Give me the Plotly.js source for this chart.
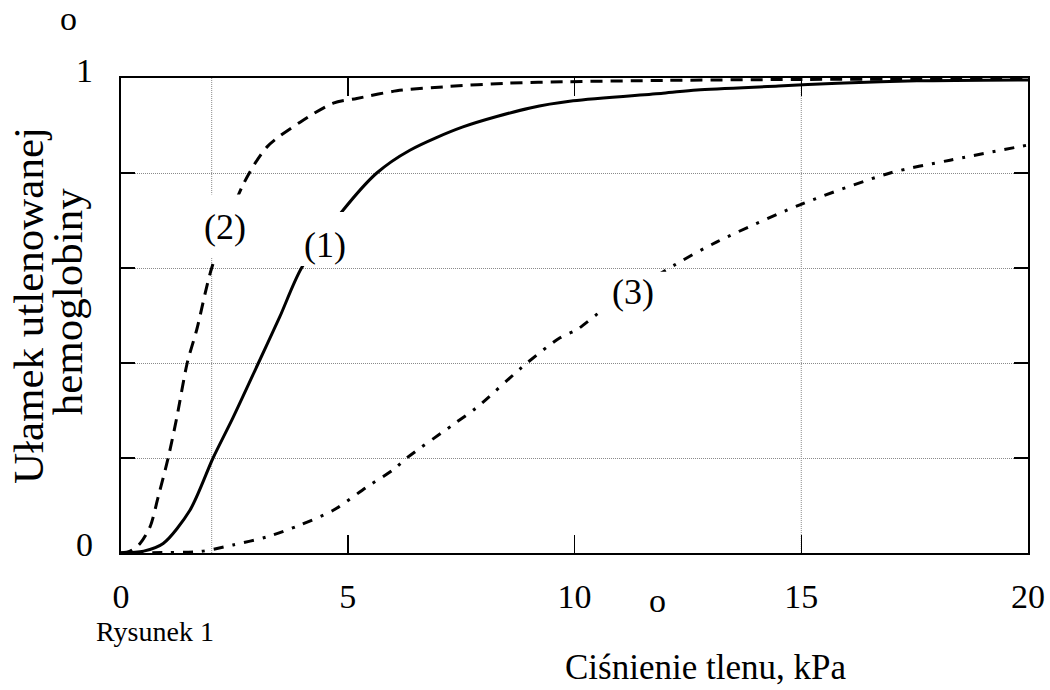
<!DOCTYPE html>
<html>
<head>
<meta charset="utf-8">
<script src="https://cdn.plot.ly/plotly-3.0.1.min.js"></script>
<style>html,body{margin:0;padding:0;background:#fff;}#chart{width:1050px;height:690px;}</style>
</head>
<body>
<div id="chart"></div>
<script>
// Curve (1) – solid
var pressure1 = [0, 0.5, 0.93, 1.52, 2.03, 2.47, 3.03, 3.5, 3.98, 4.9, 5.64, 6.37, 7.54, 9.02, 9.97, 11.95, 12.7, 14.5, 15.8, 17.55, 20];
var fraction1 = [0, 0.004, 0.02, 0.09, 0.2, 0.285, 0.4, 0.497, 0.6, 0.722, 0.8, 0.848, 0.897, 0.937, 0.952, 0.968, 0.975, 0.983, 0.989, 0.994, 0.996];
// Curve (2) – dashed
var pressure2 = [0, 0.2, 0.42, 0.64, 0.82, 1.04, 1.23, 1.46, 1.67, 2.0, 2.69, 3.22, 3.95, 4.68, 5.2, 6.08, 7.2, 8.5, 9.75, 12, 15, 20];
var fraction2 = [0, 0.004, 0.02, 0.055, 0.118, 0.2, 0.285, 0.4, 0.47, 0.6, 0.775, 0.855, 0.907, 0.947, 0.957, 0.973, 0.982, 0.989, 0.992, 0.995, 0.997, 0.998];
// Curve (3) – dash-dot
var pressure3 = [0, 1.0, 1.74, 2.47, 3.22, 3.95, 4.68, 5.42, 6.0, 6.3, 7.32, 7.85, 8.95, 9.68, 10.05, 10.56, 12.2, 13.14, 14.97, 16.96, 18.28, 20];
var fraction3 = [0, 0.001, 0.003, 0.017, 0.034, 0.059, 0.09, 0.139, 0.175, 0.2, 0.27, 0.307, 0.4, 0.453, 0.47, 0.507, 0.606, 0.655, 0.733, 0.8, 0.827, 0.859];

var xTickVals = [0, 5, 10, 15, 20];
var xTickText = ["0", "5", "10", "15", "20"];
var yTickVals = [0, 0.2, 0.4, 0.6, 0.8, 1];
var curveLabels = ["(1)", "(2)", "(3)"];

var FONT = "Liberation Serif, Times New Roman, serif";

var traces = [
  {x: pressure1, y: fraction1, mode: "lines", line: {color: "#000", width: 3, shape: "spline", smoothing: 0.8}, hoverinfo: "skip"},
  {x: pressure2, y: fraction2, mode: "lines", line: {color: "#000", width: 3, dash: "12px,8px", shape: "spline", smoothing: 0.8}, hoverinfo: "skip"},
  {x: pressure3, y: fraction3, mode: "lines", line: {color: "#000", width: 3, dash: "10px,9px,3px,9px", shape: "spline", smoothing: 0.8}, hoverinfo: "skip"}
];

function txt(s, xr, yr, x, y, size, extra) {
  var a = {text: s, xref: xr, yref: yr, x: x, y: y, showarrow: false, xanchor: "center", yanchor: "middle",
           font: {family: FONT, size: size, color: "#000"}};
  if (extra) { for (var k in extra) a[k] = extra[k]; }
  return a;
}

var layout = {
  width: 1050, height: 690,
  margin: {l: 121, r: 22, t: 78, b: 137},
  paper_bgcolor: "#fff", plot_bgcolor: "#fff",
  showlegend: false,
  font: {family: FONT, color: "#000", size: 34},
  xaxis: {
    range: [0, 20], tickvals: xTickVals, ticktext: xTickText,
    ticks: "inside", ticklen: 18, tickwidth: 1.5, tickcolor: "#000",
    showline: true, linecolor: "#000", linewidth: 2, mirror: "ticks",
    showgrid: false, zeroline: false,
    tickfont: {family: FONT, size: 34, color: "#000"},
    ticklabelstandoff: 12
  },
  yaxis: {
    range: [0, 1], tickvals: yTickVals,
    ticks: "inside", ticklen: 14, tickwidth: 1.5, tickcolor: "#000",
    showline: true, linecolor: "#000", linewidth: 2, mirror: "ticks",
    showgrid: true, gridcolor: "#8a8a8a", gridwidth: 1, griddash: "1px,1px",
    zeroline: false, showticklabels: false
  },
  shapes: [
    {type: "line", xref: "x", yref: "paper", x0: 2, x1: 2, y0: 0, y1: 1, layer: "below", line: {color: "#8a8a8a", width: 1, dash: "1px,1px"}},
    {type: "line", xref: "x", yref: "paper", x0: 15, x1: 15, y0: 0, y1: 1, layer: "below", line: {color: "#8a8a8a", width: 1, dash: "1px,1px"}},
    {type: "rect", xref: "x", yref: "y", x0: 1.74, x1: 2.84, y0: 0.621, y1: 0.755, layer: "above", fillcolor: "#fff", line: {width: 0}},
    {type: "rect", xref: "x", yref: "y", x0: 3.95, x1: 5.0, y0: 0.604, y1: 0.718, layer: "above", fillcolor: "#fff", line: {width: 0}},
    {type: "rect", xref: "x", yref: "y", x0: 10.56, x1: 12.06, y0: 0.503, y1: 0.592, layer: "above", fillcolor: "#fff", line: {width: 0}}
  ],
  annotations: [
    txt(curveLabels[0], "x", "y", 4.5, 0.648, 36),
    txt(curveLabels[1], "x", "y", 2.29, 0.687, 36),
    txt(curveLabels[2], "x", "y", 11.29, 0.549, 36),
    txt("1", "paper", "paper", -0.0397, 1.0168, 34),
    txt("0", "paper", "paper", -0.0397, 0.017, 34),
    txt("o", "paper", "paper", -0.0584, 1.126, 34),
    txt("o", "paper", "paper", 0.591, -0.099, 34),
    txt("Rysunek 1", "paper", "paper", 0.0375, -0.166, 28),
    txt("Ciśnienie tlenu, kPa", "paper", "paper", 0.644, -0.242, 35),
    txt("Ułamek utlenowanej", "paper", "paper", -0.1025, 0.52, 43, {textangle: -90}),
    txt("hemoglobiny", "paper", "paper", -0.0595, 0.528, 43, {textangle: -90})
  ]
};

Plotly.newPlot("chart", traces, layout, {displayModeBar: false, staticPlot: true});
</script>
</body>
</html>
